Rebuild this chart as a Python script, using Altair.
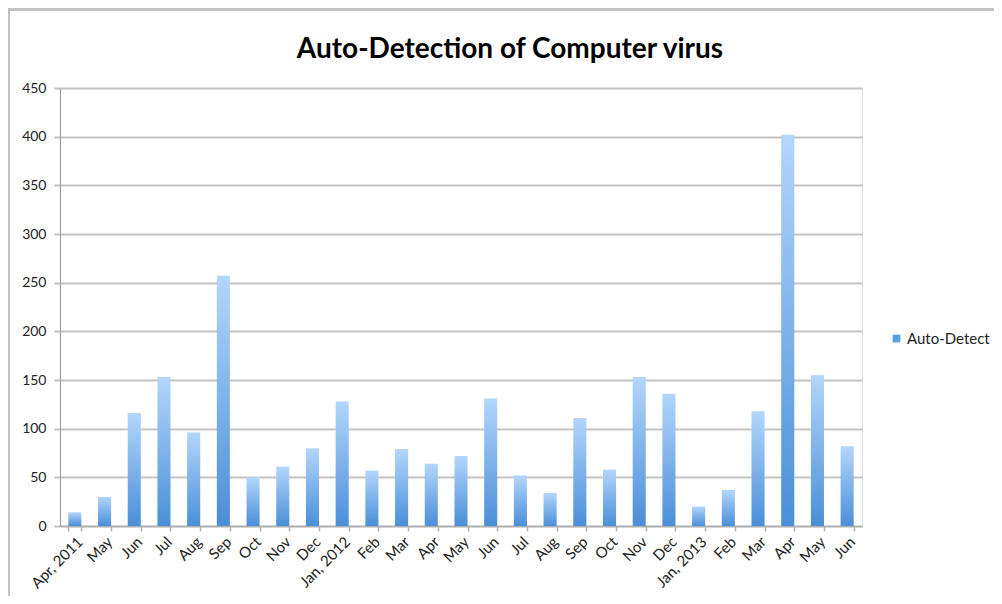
import altair as alt
import pandas as pd

periods = ["2011-04","2011-05","2011-06","2011-07","2011-08","2011-09","2011-10","2011-11","2011-12",
           "2012-01","2012-02","2012-03","2012-04","2012-05","2012-06","2012-07","2012-08","2012-09",
           "2012-10","2012-11","2012-12","2013-01","2013-02","2013-03","2013-04","2013-05","2013-06"]
labels = ["Apr, 2011","May","Jun","Jul","Aug","Sep","Oct","Nov","Dec",
          "Jan, 2012","Feb","Mar","Apr","May","Jun","Jul","Aug","Sep",
          "Oct","Nov","Dec","Jan, 2013","Feb","Mar","Apr","May","Jun"]
values = [14,30,116,153,96,257,50,61,80,
          128,57,79,64,72,131,52,34,111,
          58,153,136,20,37,118,402,155,82]
series = ["Auto-Detect"] * len(values)
y_ticks = [0,50,100,150,200,250,300,350,400,450]

df = pd.DataFrame({"period": periods, "label": labels, "value": values, "series": series})

label_map = "{" + ",".join(f"'{p}':'{l}'" for p, l in zip(periods, labels)) + "}"

FONT = "Lato"

x = alt.X("period:N", sort=periods, title=None,
          scale=alt.Scale(paddingInner=0.56, paddingOuter=0.28),
          axis=alt.Axis(labelExpr=f"{label_map}[datum.value]", labelAngle=-45,
                        tickBand="extent", tickSize=5, tickColor="#b0b0b0", tickWidth=1.5,
                        domainColor="#b0b0b0", domainWidth=1.5,
                        labelFont=FONT, labelFontSize=15, labelColor="#222222",
                        labelPadding=3, grid=False))
y = alt.Y("value:Q", title=None,
          scale=alt.Scale(domain=[0, 450], nice=False),
          axis=alt.Axis(values=y_ticks, grid=True, gridColor="#c4c4c4", gridWidth=2,
                        tickSize=6, tickColor="#c4c4c4", tickWidth=2,
                        domainColor="#a0a0a0", domainWidth=1.2,
                        labelFont=FONT, labelFontSize=14, labelColor="#222222",
                        labelPadding=8))

grad = alt.Gradient(gradient="linear",
                    stops=[alt.GradientStop(color="#4a8fd8", offset=0),
                           alt.GradientStop(color="#b3d6fc", offset=1)],
                    x1=1, x2=1, y1=1, y2=0)

# outer chart frame (decoration, like the spreadsheet chart border)
frame = alt.Chart(pd.DataFrame({"f": [0]})).mark_rect(
    fillOpacity=0, stroke="#c2c2c2", strokeWidth=3
).encode(x=alt.value(-51.5), x2=alt.value(1000), y=alt.value(-78.5), y2=alt.value(700))

bars = alt.Chart(df).mark_bar(color=grad).encode(x=x, y=y)

legend_layer = alt.Chart(df).mark_square(opacity=0, size=50).encode(
    x=alt.X("period:N", sort=periods),
    y=alt.Y("value:Q"),
    color=alt.Color("series:N", title=None,
                    scale=alt.Scale(range=["#5c9ee3"]),
                    legend=alt.Legend(orient="none", legendX=829, legendY=243,
                                      symbolType="square", symbolSize=60,
                                      symbolOpacity=1, symbolStrokeWidth=0,
                                      labelFont=FONT, labelFontSize=15,
                                      labelColor="#222222", labelOffset=3)))

chart = alt.layer(frame, bars, legend_layer).properties(
    width=802, height=438,
    autosize=alt.AutoSizeParams(type="none"),
    padding={"left": 52, "top": 80, "right": 132, "bottom": 70},
    title=alt.TitleParams("Auto-Detection of Computer virus", font=FONT, fontSize=28,
                          fontWeight="bold", color="#000000", anchor="middle",
                          frame="group", dx=49, offset=-56),
).configure_view(stroke=None).configure(background="white")

chart.save("out.html", embed_options={"renderer": "svg", "actions": False})
